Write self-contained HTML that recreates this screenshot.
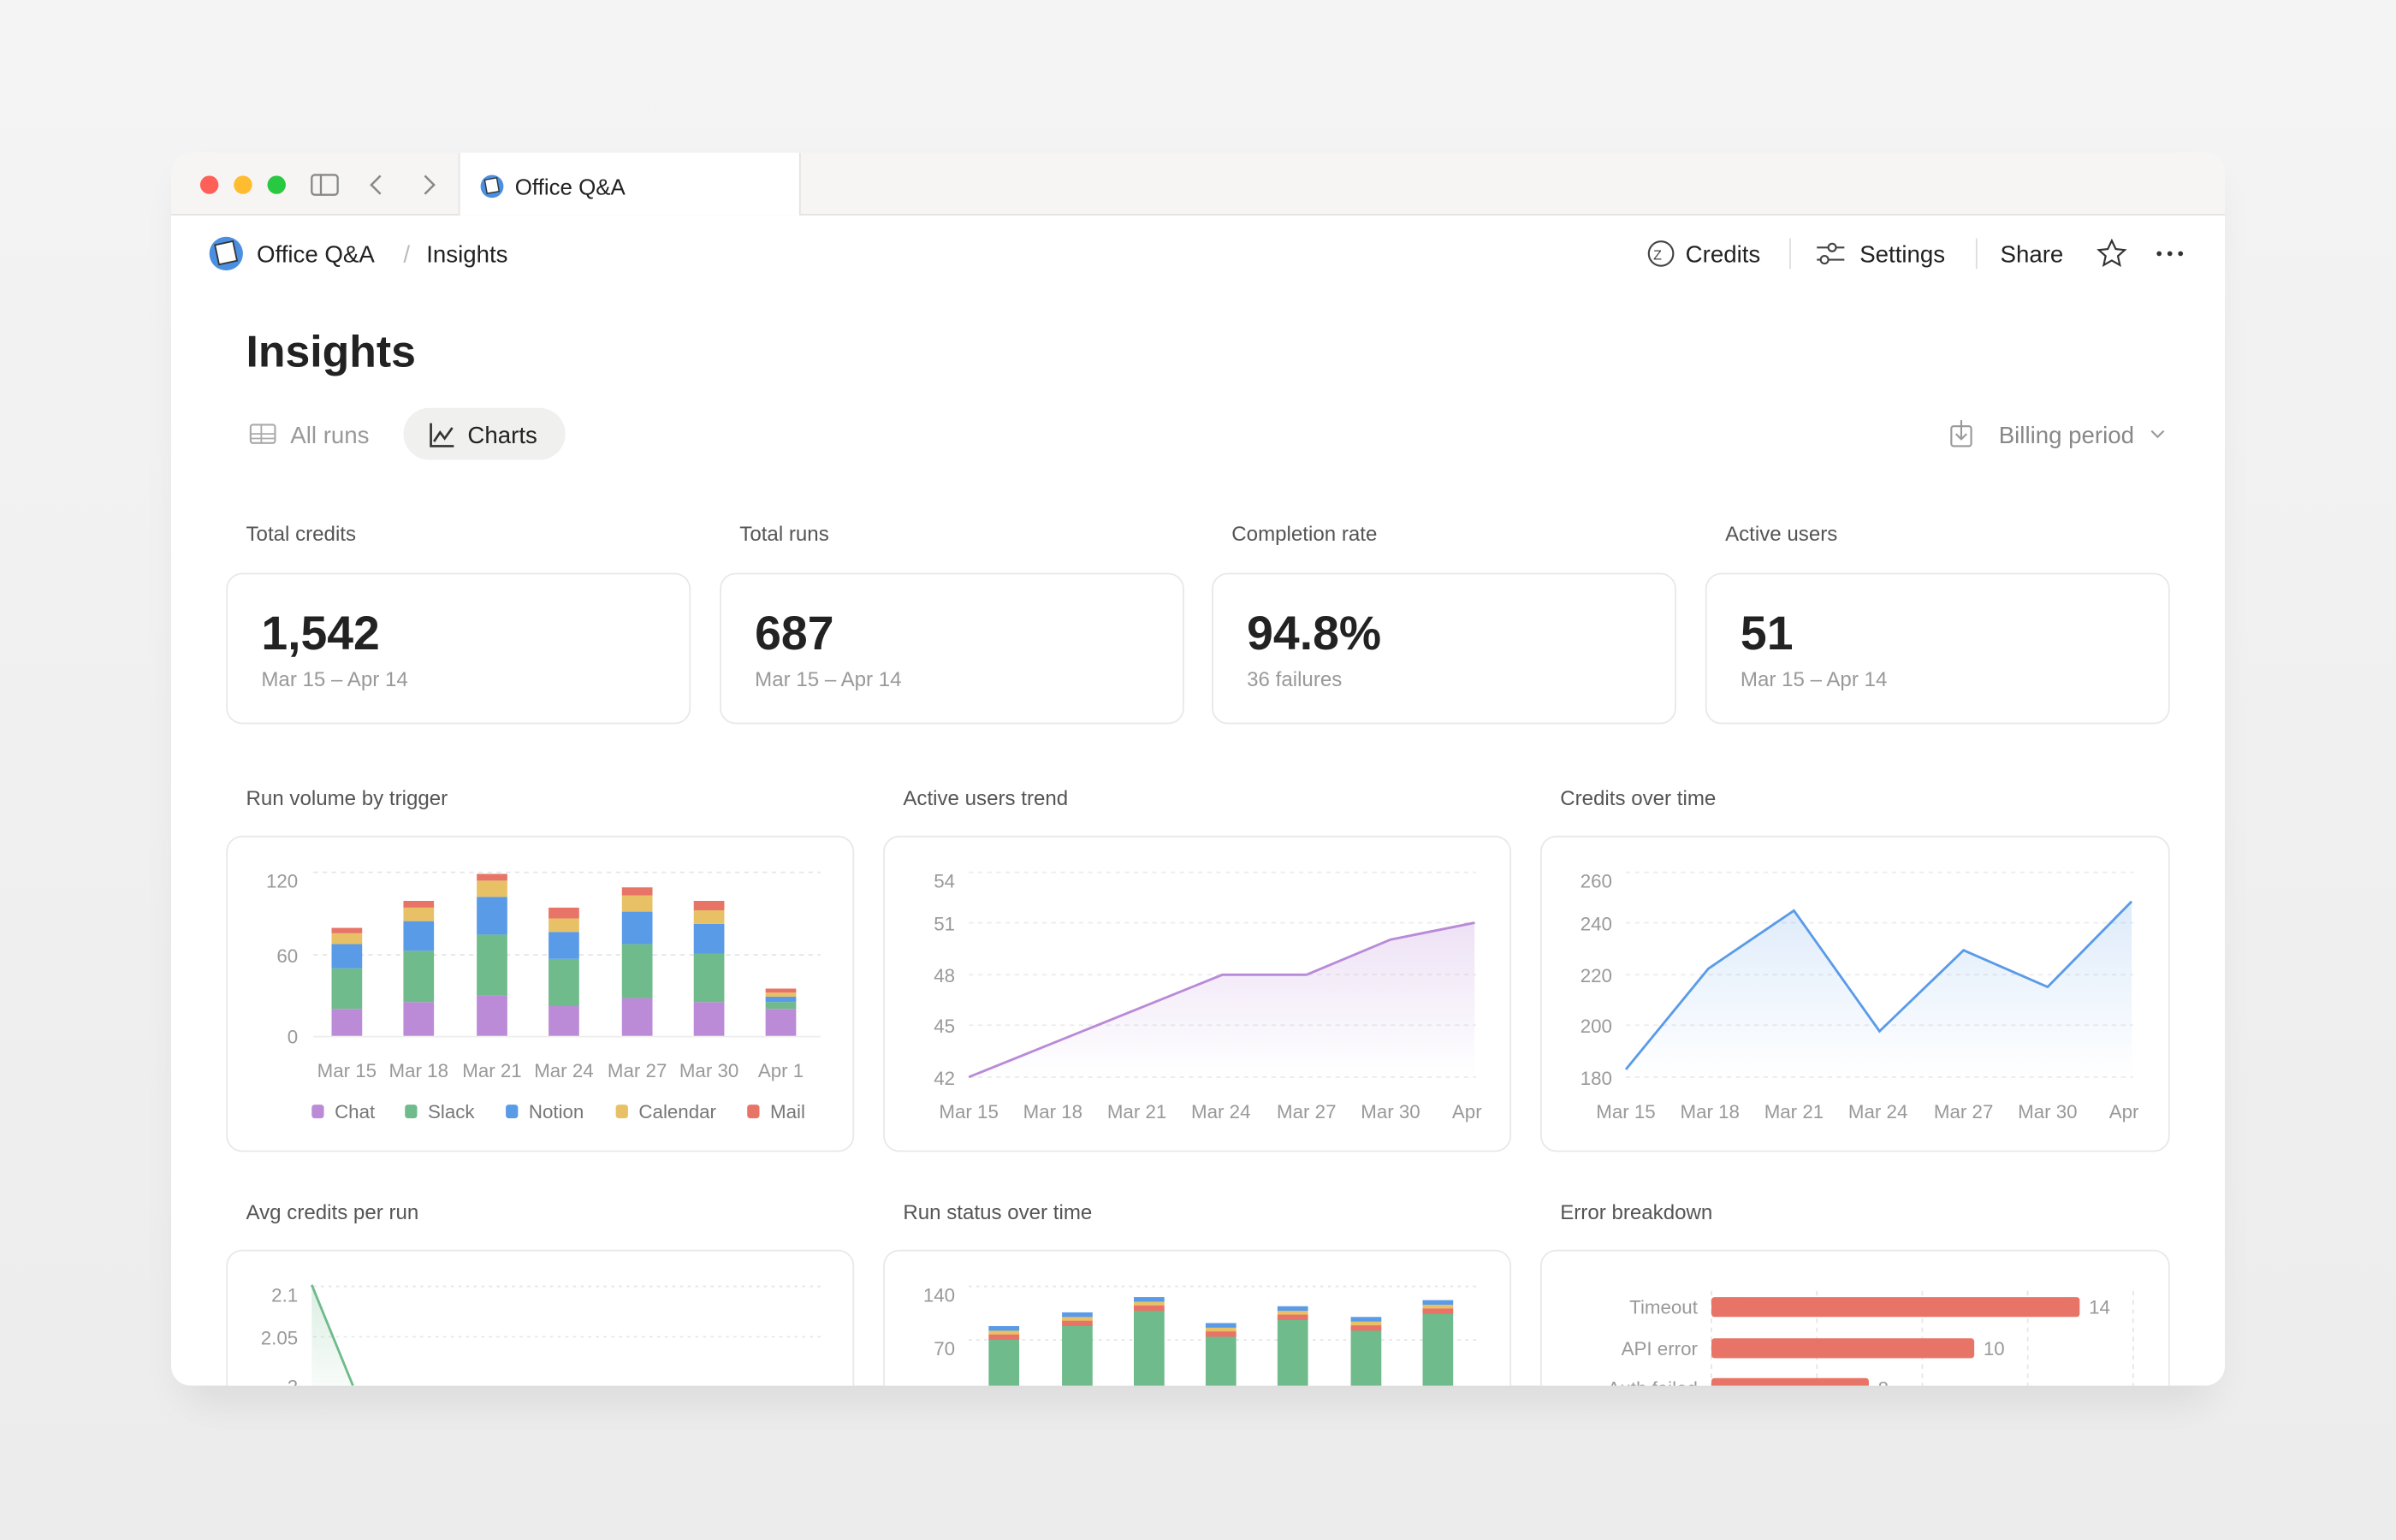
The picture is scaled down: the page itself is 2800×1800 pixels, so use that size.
<!DOCTYPE html>
<html><head><meta charset="utf-8"><style>
html,body{margin:0;padding:0;background:#f0f0f0;}
svg{display:block;font-family:"Liberation Sans",sans-serif;}
</style></head><body>
<svg width="2800" height="1800" viewBox="0 0 1568 1008" xmlns="http://www.w3.org/2000/svg">
<defs>
<linearGradient id="bg" x1="0" y1="0" x2="0" y2="1"><stop offset="0" stop-color="#f4f4f4"/><stop offset="1" stop-color="#ececec"/></linearGradient>
<clipPath id="win"><rect x="112" y="100" width="1344" height="807" rx="13"/></clipPath>
<filter id="sh" x="-10%" y="-10%" width="120%" height="130%"><feGaussianBlur stdDeviation="14"/></filter>
<linearGradient id="pg" x1="0" y1="0" x2="0" y2="1"><stop offset="0" stop-color="#b98ad8" stop-opacity=".25"/><stop offset="1" stop-color="#b98ad8" stop-opacity="0"/></linearGradient>
<linearGradient id="bgr" x1="0" y1="0" x2="0" y2="1"><stop offset="0" stop-color="#5a9be8" stop-opacity=".2"/><stop offset="1" stop-color="#5a9be8" stop-opacity="0"/></linearGradient>
<linearGradient id="gg" x1="0" y1="0" x2="0" y2="1"><stop offset="0" stop-color="#6fbb8b" stop-opacity=".25"/><stop offset="1" stop-color="#6fbb8b" stop-opacity="0.05"/></linearGradient>
</defs>
<rect width="1568" height="1008" fill="url(#bg)"/>
<rect x="120" y="118" width="1328" height="800" rx="13" fill="#000" opacity=".08" filter="url(#sh)"/>
<g clip-path="url(#win)">
<rect x="112" y="100" width="1344" height="807" fill="#fff"/>
<rect x="112" y="100" width="1344" height="41" fill="#f6f5f4"/>
<line x1="112" y1="140.5" x2="1456" y2="140.5" stroke="#e4e3e1"/>
<rect x="300" y="100" width="223" height="41" fill="#fff"/>
<line x1="300.5" y1="100" x2="300.5" y2="141" stroke="#e4e3e1"/>
<line x1="523.5" y1="100" x2="523.5" y2="141" stroke="#e4e3e1"/>
<circle cx="137" cy="121" r="6" fill="#fe5f57"/>
<circle cx="159" cy="121" r="6" fill="#febc2e"/>
<circle cx="181" cy="121" r="6" fill="#28c840"/>
<rect x="204" y="114.5" width="17" height="13" rx="2" fill="none" stroke="#888" stroke-width="1.3"/>
<line x1="210" y1="114.5" x2="210" y2="127.5" stroke="#888" stroke-width="1.3"/>
<path d="M249 115 L243 121 L249 127" fill="none" stroke="#888" stroke-width="1.4"/>
<path d="M278 115 L284 121 L278 127" fill="none" stroke="#888" stroke-width="1.4"/>
<circle cx="322" cy="122" r="7.5" fill="#4a8fe0"/><rect x="318" y="117" width="8" height="9" fill="#fff" stroke="#333" stroke-width=".8" transform="rotate(-10 322 122)"/>
<text x="337" y="127.5" font-size="14.5" fill="#222">Office Q&amp;A</text>
<circle cx="148" cy="166" r="11" fill="#4a8fe0"/><rect x="142" y="159" width="12" height="13" fill="#fff" stroke="#333" stroke-width="1" transform="rotate(-12 148 166)"/>
<text x="168" y="171.5" font-size="15.5" fill="#222">Office Q&amp;A</text>
<text x="264" y="171.5" font-size="15.5" fill="#bbb">/</text>
<text x="279" y="171.5" font-size="15.5" fill="#222">Insights</text>
<circle cx="1087" cy="166" r="8" fill="none" stroke="#444" stroke-width="1.2"/>
<text x="1082" y="170" font-size="9" fill="#444">Z</text>
<text x="1103" y="171.5" font-size="15.5" fill="#222">Credits</text>
<line x1="1171.5" y1="156" x2="1171.5" y2="176" stroke="#ddd"/>
<path d="M1189 162 H1207 M1189 170 H1207" stroke="#444" stroke-width="1.2"/>
<circle cx="1199" cy="162" r="2.5" fill="#fff" stroke="#444" stroke-width="1.2"/><circle cx="1194" cy="170" r="2.5" fill="#fff" stroke="#444" stroke-width="1.2"/>
<text x="1217" y="171.5" font-size="15.5" fill="#222">Settings</text>
<line x1="1293.5" y1="156" x2="1293.5" y2="176" stroke="#ddd"/>
<text x="1309" y="171.5" font-size="15.5" fill="#222">Share</text>
<path d="M1382 157.5 L1384.6 163 L1390.5 163.6 L1386 167.6 L1387.3 173.5 L1382 170.5 L1376.7 173.5 L1378 167.6 L1373.5 163.6 L1379.4 163 Z" fill="none" stroke="#333" stroke-width="1.2"/>
<circle cx="1413" cy="166" r="1.6" fill="#333"/><circle cx="1420" cy="166" r="1.6" fill="#333"/><circle cx="1427" cy="166" r="1.6" fill="#333"/>
<text x="161" y="240" font-size="29" font-weight="bold" fill="#222">Insights</text>
<rect x="164" y="278" width="16" height="12" rx="1.5" fill="none" stroke="#aaa" stroke-width="1.2"/>
<path d="M164 284 H180 M164 287 H180 M171 278 V290" stroke="#aaa" stroke-width="1"/>
<text x="190" y="290" font-size="15.5" fill="#999">All runs</text>
<rect x="264" y="267" width="106" height="34" rx="17" fill="#f0f0ef"/>
<path d="M282 277 V292 H297 M284 289 L288 283 L291 287 L296 280" fill="none" stroke="#333" stroke-width="1.5"/>
<text x="306" y="290" font-size="15.5" fill="#222">Charts</text>
<rect x="1277" y="279" width="13" height="13" rx="1.5" fill="none" stroke="#999" stroke-width="1.2"/>
<path d="M1283.5 275 V287 M1280 284 L1283.5 287.5 L1287 284" fill="none" stroke="#999" stroke-width="1.2"/>
<text x="1308" y="290" font-size="15.5" fill="#888">Billing period</text>
<path d="M1408 282 L1412 286 L1416 282" fill="none" stroke="#999" stroke-width="1.2"/>
<g font-size="13.5" fill="#555">
<text x="161" y="354">Total credits</text><text x="484" y="354">Total runs</text><text x="806" y="354">Completion rate</text><text x="1129" y="354">Active users</text>
<text x="161" y="527">Run volume by trigger</text><text x="591" y="527">Active users trend</text><text x="1021" y="527">Credits over time</text>
<text x="161" y="798">Avg credits per run</text><text x="591" y="798">Run status over time</text><text x="1021" y="798">Error breakdown</text>
</g>
<g fill="#fff" stroke="#e8e8e6">
<rect x="148.5" y="375.5" width="303" height="98" rx="10"/><rect x="471.5" y="375.5" width="303" height="98" rx="10"/><rect x="793.5" y="375.5" width="303" height="98" rx="10"/><rect x="1116.5" y="375.5" width="303" height="98" rx="10"/>
<rect x="148.5" y="547.5" width="410" height="206" rx="10"/><rect x="578.5" y="547.5" width="410" height="206" rx="10"/><rect x="1008.5" y="547.5" width="411" height="206" rx="10"/>
<rect x="148.5" y="818.5" width="410" height="206" rx="10"/><rect x="578.5" y="818.5" width="410" height="206" rx="10"/><rect x="1008.5" y="818.5" width="411" height="206" rx="10"/>
</g>
<g font-size="31" font-weight="bold" fill="#222">
<text x="171" y="425">1,542</text><text x="494" y="425">687</text><text x="816" y="425">94.8%</text><text x="1139" y="425">51</text>
</g>
<g font-size="13.5" fill="#999">
<text x="171" y="449">Mar 15 – Apr 14</text><text x="494" y="449">Mar 15 – Apr 14</text><text x="816" y="449">36 failures</text><text x="1139" y="449">Mar 15 – Apr 14</text>
</g>
<!-- chart1 -->
<g stroke="#e6e6e6" stroke-dasharray="3 3"><line x1="205" y1="571" x2="537" y2="571"/><line x1="205" y1="625" x2="537" y2="625"/></g>
<line x1="205" y1="678.5" x2="537" y2="678.5" stroke="#eee"/>
<g font-size="12.5" fill="#999" text-anchor="end"><text x="195" y="581">120</text><text x="195" y="630">60</text><text x="195" y="683">0</text></g>
<g id="b1"></g>
<g font-size="12.5" fill="#999" text-anchor="middle">
<text x="227" y="705">Mar 15</text><text x="274" y="705">Mar 18</text><text x="322" y="705">Mar 21</text><text x="369" y="705">Mar 24</text><text x="417" y="705">Mar 27</text><text x="464" y="705">Mar 30</text><text x="511" y="705">Apr 1</text></g>
<g font-size="12.5" fill="#777">
<rect x="204" y="723" width="8" height="9" rx="2" fill="#bb8bd8"/><text x="219" y="732">Chat</text>
<rect x="265" y="723" width="8" height="9" rx="2" fill="#6fbb8b"/><text x="280" y="732">Slack</text>
<rect x="331" y="723" width="8" height="9" rx="2" fill="#5a9be8"/><text x="346" y="732">Notion</text>
<rect x="403" y="723" width="8" height="9" rx="2" fill="#e8c166"/><text x="418" y="732">Calendar</text>
<rect x="489" y="723" width="8" height="9" rx="2" fill="#e87467"/><text x="504" y="732">Mail</text>
</g>
<!-- chart2 -->
<g stroke="#ececec" stroke-dasharray="3 3"><line x1="634" y1="571" x2="966" y2="571"/><line x1="634" y1="604" x2="966" y2="604"/><line x1="634" y1="638" x2="966" y2="638"/><line x1="634" y1="671" x2="966" y2="671"/><line x1="634" y1="705" x2="966" y2="705"/></g>
<g font-size="12.5" fill="#999" text-anchor="end"><text x="625" y="581">54</text><text x="625" y="609">51</text><text x="625" y="643">48</text><text x="625" y="676">45</text><text x="625" y="710">42</text></g>
<path d="M634 705 L800 638 L855 638 L910 615 L965 604 L965 705 Z" fill="url(#pg)"/>
<path d="M634 705 L800 638 L855 638 L910 615 L965 604" fill="none" stroke="#b98ad8" stroke-width="1.6"/>
<g font-size="12.5" fill="#999" text-anchor="middle"><text x="634" y="732">Mar 15</text><text x="689" y="732">Mar 18</text><text x="744" y="732">Mar 21</text><text x="799" y="732">Mar 24</text><text x="855" y="732">Mar 27</text><text x="910" y="732">Mar 30</text><text x="960" y="732">Apr</text></g>
<!-- chart3 -->
<g stroke="#ececec" stroke-dasharray="3 3"><line x1="1064" y1="571" x2="1396" y2="571"/><line x1="1064" y1="604" x2="1396" y2="604"/><line x1="1064" y1="638" x2="1396" y2="638"/><line x1="1064" y1="671" x2="1396" y2="671"/><line x1="1064" y1="705" x2="1396" y2="705"/></g>
<g font-size="12.5" fill="#999" text-anchor="end"><text x="1055" y="581">260</text><text x="1055" y="609">240</text><text x="1055" y="643">220</text><text x="1055" y="676">200</text><text x="1055" y="710">180</text></g>
<path d="M1064 700 L1118 634 L1174 596 L1230 675 L1285 622 L1340 646 L1395 590 L1395 705 L1064 705 Z" fill="url(#bgr)"/>
<path d="M1064 700 L1118 634 L1174 596 L1230 675 L1285 622 L1340 646 L1395 590" fill="none" stroke="#5a9be8" stroke-width="1.6"/>
<g font-size="12.5" fill="#999" text-anchor="middle"><text x="1064" y="732">Mar 15</text><text x="1119" y="732">Mar 18</text><text x="1174" y="732">Mar 21</text><text x="1229" y="732">Mar 24</text><text x="1285" y="732">Mar 27</text><text x="1340" y="732">Mar 30</text><text x="1390" y="732">Apr</text></g>
<!-- chart4 -->
<g stroke="#e6e6e6" stroke-dasharray="2 3"><line x1="205" y1="842" x2="537" y2="842"/><line x1="205" y1="875" x2="537" y2="875"/></g>
<g font-size="12.5" fill="#999" text-anchor="end"><text x="195" y="852">2.1</text><text x="195" y="880">2.05</text><text x="195" y="912">2</text></g>
<path d="M204 841 L231 907 L204 907 Z" fill="url(#gg)"/>
<path d="M204 841 L231 907" stroke="#6fbb8b" stroke-width="1.6" fill="none"/>
<!-- chart5 -->
<g stroke="#e6e6e6" stroke-dasharray="2 3"><line x1="634" y1="842" x2="966" y2="842"/><line x1="634" y1="877" x2="966" y2="877"/></g>
<g font-size="12.5" fill="#999" text-anchor="end"><text x="625" y="852">140</text><text x="625" y="887">70</text></g>
<g id="b5"></g>
<!-- chart6 -->
<g stroke="#e6e6e6" stroke-dasharray="3 3"><line x1="1120" y1="845" x2="1120" y2="907"/><line x1="1189" y1="845" x2="1189" y2="907"/><line x1="1258" y1="845" x2="1258" y2="907"/><line x1="1327" y1="845" x2="1327" y2="907"/><line x1="1396" y1="845" x2="1396" y2="907"/></g>
<g fill="#e87467"><rect x="1120" y="849" width="241" height="13" rx="2"/><rect x="1120" y="876" width="172" height="13" rx="2"/><rect x="1120" y="902" width="103" height="13" rx="2"/></g>
<g font-size="12.5" fill="#999" text-anchor="end"><text x="1111" y="860">Timeout</text><text x="1111" y="887">API error</text><text x="1111" y="913">Auth failed</text></g>
<g font-size="12.5" fill="#999"><text x="1367" y="860">14</text><text x="1298" y="887">10</text><text x="1229" y="913">8</text></g>
<script>
(function(){
var ns="http://www.w3.org/2000/svg";
function r(g,x,y,w,h,c){var e=document.createElementNS(ns,"rect");e.setAttribute("x",x);e.setAttribute("y",y);e.setAttribute("width",w);e.setAttribute("height",h);e.setAttribute("fill",c);g.appendChild(e);}
var cols=["#bb8bd8","#6fbb8b","#5a9be8","#e8c166","#e87467"];
var d=[[20,50,68,76,80],[25,63,85,95,100],[30,75,103,115,120],[22,57,77,87,95],[28,68,92,104,110],[25,61,83,93,100],[20,25,29,32,35]];
var xs=[227,274,322,369,417,464,511],g=document.getElementById("b1"),k=53/60;
d.forEach(function(b,i){var p=0;b.forEach(function(v,j){var y0=678-p*k,y1=678-v*k;r(g,xs[i]-10,y1,20,y0-y1,cols[j]);p=v;});});
var g5=document.getElementById("b5"),xs5=[657,705,752,799,846,894,941],tops=[868,859,849,866,855,862,851];
xs5.forEach(function(x,i){var t=tops[i];r(g5,x-10,t+8,20,60,"#6fbb8b");r(g5,x-10,t+5,20,4,"#e87467");r(g5,x-10,t+2.5,20,3,"#e8c166");r(g5,x-10,t,20,3,"#5a9be8");});
})();
</script>
</g>
</svg>
</body></html>
